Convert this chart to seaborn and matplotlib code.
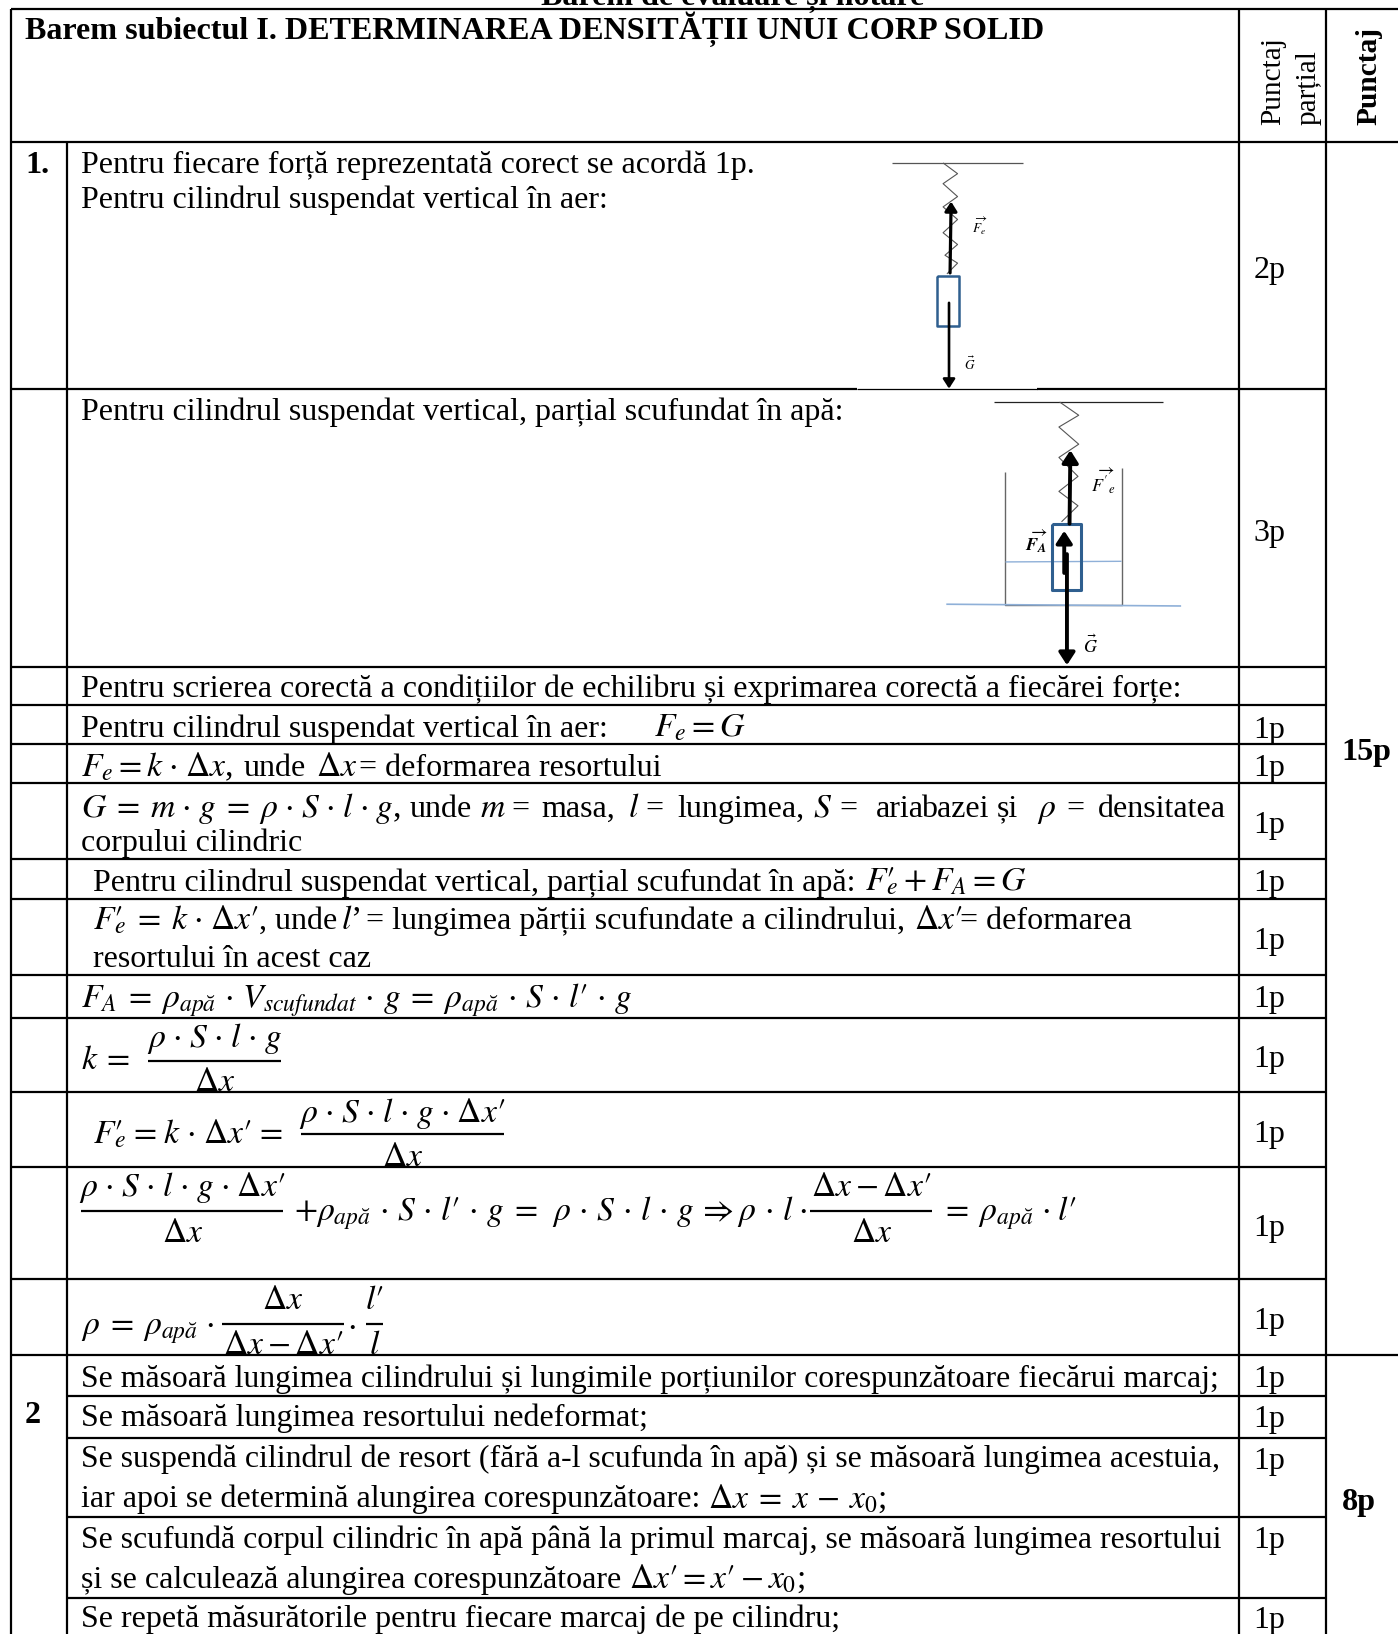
import matplotlib
matplotlib.use("Agg")
import matplotlib.pyplot as plt
import seaborn as sns

sns.set_theme(style="white")
plt.rcParams['font.family'] = ['Liberation Serif', 'DejaVu Serif']
plt.rcParams['mathtext.fontset'] = 'stix'

DOT = "\\hspace{0.1}\\cdot\\hspace{0.1}"
DOTW = "\\hspace{0.15}\\cdot\\hspace{0.15}"
EQ = "\\hspace{0.25}=\\hspace{0.25}"
EQM = "\\hspace{0.1}=\\hspace{0.1}"
APA = "\\rho_{apă}"
DXP = "\\Delta x\\prime"
FEP = "F\\prime_{\\hspace{-0.55}e}"

PAGE_TITLE = "Barem de evaluare și notare"
TABLE_TITLE = "Barem subiectul I. DETERMINAREA DENSITĂȚII UNUI CORP SOLID"
HEAD_PARTIAL = ["Punctaj", "parțial"]
HEAD_TOTAL = "Punctaj"
SECTIONS = ["1.", "2"]
TOTALS = ["15p", "8p"]
PARTIAL_POINTS = ["2p", "3p", "1p", "1p", "1p", "1p", "1p", "1p", "1p", "1p", "1p", "1p",
                  "1p", "1p", "1p", "1p", "1p"]
POINTS_Y = [267, 519, 708, 745, 800, 855, 911, 967, 1024, 1096, 1186, 1276, 1331, 1370, 1410, 1486, 1563]

BODY_LINES = [
    "Pentru fiecare forță reprezentată corect se acordă 1p.",
    "Pentru cilindrul suspendat vertical în aer:",
    "Pentru cilindrul suspendat vertical, parțial scufundat în apă:",
    "Pentru scrierea corectă a condițiilor de echilibru și exprimarea corectă a fiecărei forțe:",
    "Pentru cilindrul suspendat vertical în aer:",
    "unde",
    "= deformarea resortului",
    "corpului cilindric",
    "Pentru cilindrul suspendat vertical, parțial scufundat în apă:",
    ", unde",
    "= lungimea părții scufundate a cilindrului,",
    "= deformarea",
    "resortului în acest caz",
    "iar apoi se determină alungirea corespunzătoare:",
    "și se calculează alungirea corespunzătoare",
    "Se repetă măsurătorile pentru fiecare marcaj de pe cilindru;",
    "masa,", "lungimea,", "aria", "bazei", "și", "=", "=", "=", "=", "densitatea", "unde",
    "Se măsoară lungimea resortului nedeformat;",
]
BODY_X = [78, 78, 78, 78, 78, 234, 345, 78, 89, 249, 351, 922, 89, 78, 78, 78,
          520, 650, 841, 884, 957, 491, 620, 806, 1024, 1054, 393, 78]
BODY_Y = [166, 200, 403, 669, 707, 745, 745, 817, 855, 892, 892, 892, 928, 1447, 1524, 1562,
          784, 784, 784, 784, 784, 784, 784, 784, 784, 784, 784, 1369]

TIGHT_LINES = [
    "Se măsoară lungimea cilindrului și lungimile porțiunilor corespunzătoare fiecărui marcaj;",
    "Se suspendă cilindrul de resort (fără a-l scufunda în apă) și se măsoară lungimea acestuia,",
    "Se scufundă corpul cilindric în apă până la primul marcaj, se măsoară lungimea resortului",
]
TIGHT_Y = [1331, 1408, 1486]

MATH_LINES = [
    "$F_e=G$",
    f"$F_e=k{DOT}\\Delta x$,",
    "$\\Delta x$",
    f"$G{EQ}m{DOT}g{EQ}\\rho{DOT}S{DOT}l{DOT}g$,",
    "$m$", "$l$", "$S$", "$\\rho$",
    f"${FEP}+F_A=G$",
    f"${FEP}{EQ}k{DOT}{DXP}$",
    "$l$’",
    f"${DXP}$",
    f"$F_A{EQ}{APA}{DOTW}V_{{scufundat}}{DOTW}g{EQ}{APA}{DOTW}S{DOTW}l\\prime{DOTW}g$",
    f"$k{EQ}$",
    f"${FEP}{EQM}k{DOT}{DXP}{EQM}$",
    f"$+{APA}{DOTW}S{DOTW}l\\prime{DOTW}g{EQ}\\hspace{{0.2}}\\rho{DOTW}S{DOTW}l{DOTW}g\\hspace{{0.2}}\\Rightarrow\\rho{DOTW}l{DOT}$",
    f"${EQ}{APA}{DOT}l\\prime$",
    f"$\\rho{EQ}{APA}{DOT}$",
    "$\\cdot$",
    f"$\\Delta x{EQ}x\\hspace{{0.2}}-\\hspace{{0.2}}x_0$;",
    f"${DXP}=x\\prime-x_0$;",
]
MATH_X = [628, 78, 303, 78, 461, 603, 780, 995, 830, 89, 327, 877, 78, 78, 89, 282, 898, 78, 333, 680, 604]
MATH_Y = [707, 745, 745, 784, 784, 784, 784, 784, 855, 892, 892, 892, 967, 1026, 1098, 1172, 1172, 1281, 1281, 1447, 1524]

FRAC_NUM = [f"$\\rho{DOT}S{DOT}l{DOT}g$", f"$\\rho{DOT}S{DOT}l{DOT}g{DOT}{DXP}$", f"$\\rho{DOT}S{DOT}l{DOT}g{DOT}{DXP}$",
            f"$\\Delta x-{DXP}$", "$\\Delta x$", "$l\\prime$"]
FRAC_DEN = ["$\\Delta x$", "$\\Delta x$", "$\\Delta x$", "$\\Delta x$", f"$\\Delta x-{DXP}$", "$l$"]

RULES_FULL = [9, 136, 1301]
RULES_MID = [640, 677, 714, 752, 825, 863, 936, 977, 1048, 1120, 1228]
RULES_SUB = [1340, 1380, 1456, 1534]

W, H = 1342, 1568.5
TEXT, BOLD, MATH = 23.0, 23.1, 24.2
fig = plt.figure(figsize=(13.98, 16.34), dpi=100, facecolor="white")
ax = fig.add_axes([0, 0, 1, 1])


def line(xs, ys, color="black", lw=1.6, z=2):
    sns.lineplot(x=xs, y=ys, ax=ax, estimator=None, sort=False, color=color,
                 linewidth=lw, legend=False, zorder=z, solid_capstyle="butt")


def put(x, y, s, size=TEXT, **kw):
    kw.setdefault("ha", "left")
    kw.setdefault("va", "baseline")
    ax.text(x, y, s, fontsize=size, color="black", **kw)


def frac(x0, x1, ynum, yline, yden, num, den):
    line([x0, x1], [yline, yline], lw=1.6)
    put((x0 + x1) / 2, ynum, num, size=MATH, ha="center")
    put((x0 + x1) / 2, yden, den, size=MATH, ha="center")


def arrow(x0, y0, x1, y1, lw=2.2, head=8):
    ax.annotate("", xy=(x1, y1), xytext=(x0, y0),
                arrowprops=dict(arrowstyle=f"-|>,head_width={head/20},head_length={head/13}",
                                lw=lw, color="black", shrinkA=0, shrinkB=0), zorder=5)


# Table rules
for y in RULES_FULL:
    line([11, W], [y, y])
for y in RULES_MID:
    line([11, 1273], [y, y])
for y in RULES_SUB:
    line([64, 1273], [y, y])
line([11, 823], [373, 373]); line([823, 995], [373, 373], lw=0.9); line([995, 1273], [373, 373])
line([11, 11], [9, H]); line([64, 64], [136, H])
line([1189, 1189], [9, H]); line([1273, 1273], [9, H])

# Titles
put(703, 5, PAGE_TITLE, ha="center", weight="bold", size=BOLD)
put(24, 37, TABLE_TITLE, weight="bold", size=BOLD)
rot = dict(rotation=90, ha="left", va="center", rotation_mode="anchor", size=21.2)
put(1222, 120, HEAD_PARTIAL[0], **rot)
put(1256, 120, HEAD_PARTIAL[1], **rot)
put(1314, 120, HEAD_TOTAL, weight="bold", **rot)

# Labels
put(24, 166, SECTIONS[0], weight="bold", size=BOLD)
put(24, 1366, SECTIONS[1], weight="bold", size=BOLD)
put(1288, 730, TOTALS[0], weight="bold", size=BOLD)
put(1288, 1449, TOTALS[1], weight="bold", size=BOLD)
for s, x, y in zip(BODY_LINES, BODY_X, BODY_Y):
    put(x, y, s)
for s, y in zip(TIGHT_LINES, TIGHT_Y):
    put(78, y, s, size=22.9)
for s, x, y in zip(MATH_LINES, MATH_X, MATH_Y):
    put(x, y, s, size=MATH)
for i, (s, y) in enumerate(zip(PARTIAL_POINTS, POINTS_Y)):
    put(1203, y, s)

# Fractions
frac(142, 270, 1005, 1018, 1047, FRAC_NUM[0], FRAC_DEN[0])
frac(289, 484, 1077, 1089, 1119, FRAC_NUM[1], FRAC_DEN[1])
frac(78, 272, 1148, 1162, 1192, FRAC_NUM[2], FRAC_DEN[2])
frac(778, 895, 1148, 1162, 1192, FRAC_NUM[3], FRAC_DEN[3])
frac(213, 330, 1257, 1271, 1300, FRAC_NUM[4], FRAC_DEN[4])
frac(351, 368, 1257, 1271, 1300, FRAC_NUM[5], FRAC_DEN[5])

# Diagram 1
GRAY = "#555555"
BLUE = "#2f5f8f"
LIGHT = "#8fb0d8"
line([856, 982], [156.5, 156.5], color=GRAY, lw=0.9)
line([905.3, 919.2, 905.3, 919.2, 905.3, 919.2, 905.3, 919.2, 907.1, 919.2, 909],
     [156.4, 166.7, 176.3, 188.7, 198.6, 210.7, 223.4, 234.7, 245, 252.6, 262.9], color=GRAY, lw=0.8)
arrow(912, 262, 913, 193.5, lw=2.3, head=6)
line([899.5, 921, 921, 899.5, 899.5], [264.6, 264.6, 313.4, 313.4, 264.6], color=BLUE, lw=1.8)
arrow(911, 290.7, 911, 373, lw=1.9, head=6)
put(941, 224, r"$\overrightarrow{F_e}$", size=9.5, ha="center")
put(930.7, 355, r"$\vec{G}$", size=9.5, ha="center")

# Diagram 2
line([954, 1116], [385.9, 385.9], color="#222222", lw=0.9)
line([1017.2, 1035.5, 1016.5, 1035.5, 1016.5, 1034.8, 1016.5, 1034.8, 1019],
     [385.9, 398.6, 409.9, 426.4, 439.1, 457.3, 471.7, 485.5, 500.9], color=GRAY, lw=0.8)
arrow(1026.7, 502.7, 1027.5, 432.2, lw=2.8, head=8)
line([965.2, 965.2, 1076.6, 1076.6], [453.5, 581, 581, 449.4], color="#666666", lw=1.0)
line([965.2, 1076.6], [539.4, 538.8], color=LIGHT, lw=1.0)
line([908.4, 1133.8], [580, 581.7], color=LIGHT, lw=1.2)
line([1010, 1037.5, 1037.5, 1010, 1010], [503.3, 503.3, 565.9, 565.9, 503.3], color=BLUE, lw=2.2)
arrow(1021.6, 550, 1021.6, 509.5, lw=2.8, head=8)
arrow(1024.2, 531.9, 1024.2, 638.5, lw=2.8, head=8)
put(1059.4, 472, r"$\overrightarrow{F'{}_e}$", size=13, ha="center")
put(995.2, 529, r"$\overrightarrow{\mathbfit{F_A}}$", size=13, ha="center")
put(1046.5, 627, r"$\vec{G}$", size=13, ha="center")

ax.set_xlim(0, W)
ax.set_ylim(H, 0)
ax.axis("off")
fig.savefig("out.png", dpi=100, facecolor="white")
